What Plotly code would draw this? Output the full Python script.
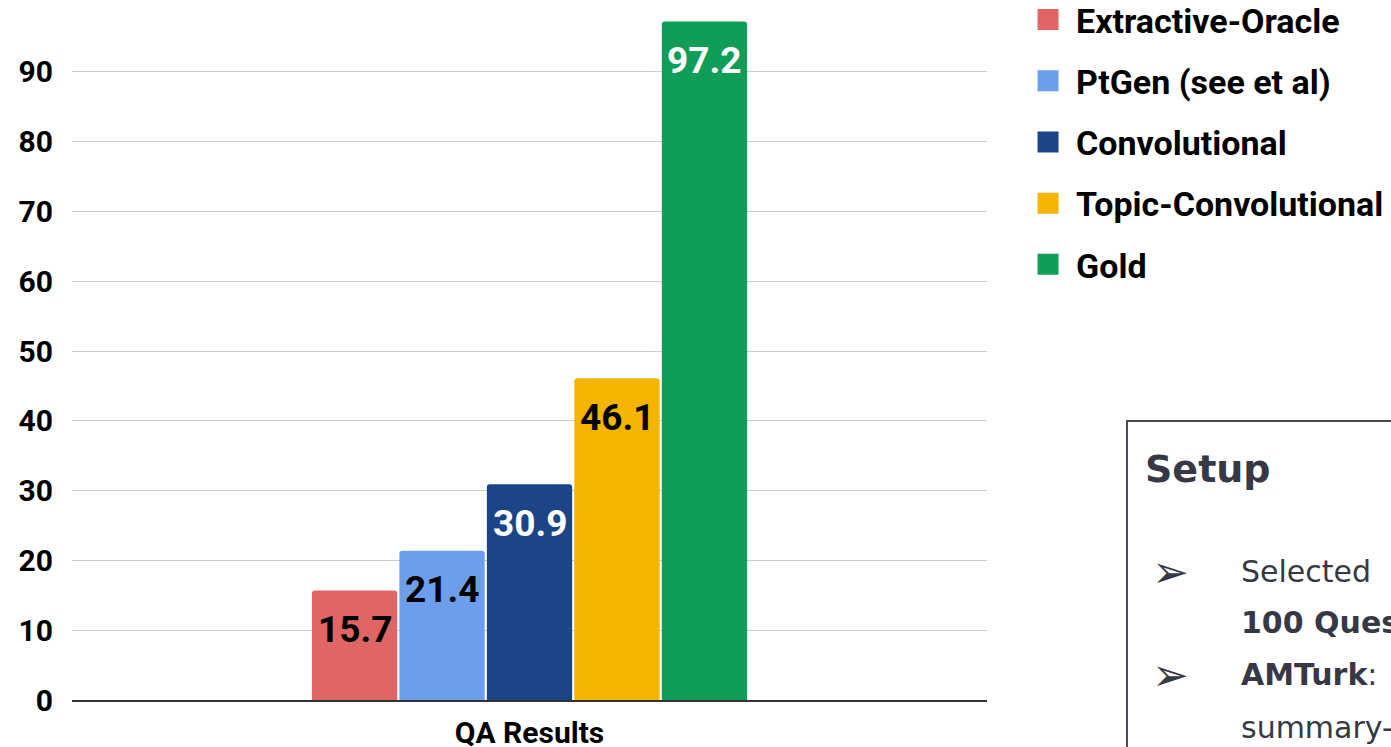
import plotly.graph_objects as go

# ---- data ----
category = ["QA Results"]
series_names = ["Extractive-Oracle", "PtGen (see et al)", "Convolutional",
                "Topic-Convolutional", "Gold"]
series_values = [15.7, 21.4, 30.9, 46.1, 97.2]
y_ticks = [0, 10, 20, 30, 40, 50, 60, 70, 80, 90]

# ---- styles ----
bar_colors = ["#e06666", "#6d9eeb", "#1c4587", "#f4b400", "#0f9d58"]
label_colors = ["#000000", "#000000", "#ffffff", "#000000", "#ffffff"]
BARGAP = 0.522
GROUPGAP = 0.025
TEXT_DARK = "#363945"

fig = go.Figure()
for i, (name, val) in enumerate(zip(series_names, series_values)):
    fig.add_trace(go.Bar(
        x=category, y=[val], name=name,
        marker=dict(color=bar_colors[i], line=dict(width=0)),
        legendgroup=name, showlegend=False,
        hoverinfo="skip",
    ))
    # legend entry with a larger square swatch
    fig.add_trace(go.Scatter(
        x=[None], y=[None], mode="markers", name=name,
        legendgroup=name, showlegend=True,
        marker=dict(symbol="square", size=16, color=bar_colors[i],
                    line=dict(color=bar_colors[i], width=5)),
        hoverinfo="skip",
    ))

# value labels inside the top of each bar
n = len(series_values)
slot = (1 - BARGAP) / n
for i, val in enumerate(series_values):
    xc = -(1 - BARGAP) / 2 + (i + 0.5) * slot
    fig.add_annotation(
        x=xc, y=val, xref="x", yref="y",
        text=f"<b>{val}</b>", showarrow=False,
        yanchor="middle", yshift=-39,
        font=dict(family="Roboto", size=37, color=label_colors[i]),
    )

fig.update_layout(
    width=1391, height=747,
    margin=dict(l=72, r=404, t=2, b=47, autoexpand=False),
    paper_bgcolor="white", plot_bgcolor="white",
    barmode="group", bargap=BARGAP, bargroupgap=GROUPGAP,
    barcornerradius=3,
    font=dict(family="Roboto", color="#000000"),
    showlegend=True,
    legend=dict(
        x=1.0361, y=1.0158, xanchor="left", yanchor="top",
        font=dict(family="Roboto", size=34, color="#000000", weight="bold"),
        traceorder="grouped", tracegroupgap=14,
        itemwidth=46, bgcolor="rgba(0,0,0,0)",
    ),
    xaxis=dict(
        type="category", range=[-0.5, 0.5], automargin=False,
        showline=True, linecolor="#333333", linewidth=1.5,
        showgrid=False, ticks="",
        tickfont=dict(family="Roboto", size=30, color="#000000", weight="bold"),
        ticklabelstandoff=5,
    ),
    yaxis=dict(
        range=[0, 100], tickvals=y_ticks, automargin=False,
        showgrid=True, gridcolor="#cccccc", gridwidth=1,
        zeroline=False, showline=False, ticks="",
        tickfont=dict(family="Roboto", size=30, color="#000000", weight="bold"),
        ticklabelstandoff=18,
    ),
)

# ---- "Setup" side box (partly outside the visible area, as in the reference) ----
def px_x(px):
    return (px - 72) / 915

def px_y(py):
    return (700 - py) / 698

fig.add_shape(
    type="rect", xref="paper", yref="paper",
    x0=px_x(1127), x1=1.7, y0=-0.2, y1=px_y(421),
    line=dict(color="#4a4c57", width=2), fillcolor="rgba(0,0,0,0)",
)
fig.add_annotation(
    xref="paper", yref="paper", x=px_x(1143), y=px_y(469),
    xanchor="left", yanchor="middle", showarrow=False,
    text="<b>Setup</b>",
    font=dict(family="DejaVu Sans", size=38, color=TEXT_DARK),
)
body_lines = [
    ("➢", "Selected", 571),
    ("", "<b>100 Questions</b>", 622),
    ("➢", "<b>AMTurk</b>:", 674),
    ("", "summary-", 727),
]
for bullet, txt, py in body_lines:
    if bullet:
        fig.add_annotation(
            xref="paper", yref="paper", x=px_x(1150), y=px_y(py),
            xanchor="left", yanchor="middle", showarrow=False,
            text=bullet, font=dict(family="DejaVu Sans", size=44, color=TEXT_DARK),
        )
    fig.add_annotation(
        xref="paper", yref="paper", x=px_x(1239), y=px_y(py),
        xanchor="left", yanchor="middle", showarrow=False,
        text=txt, font=dict(family="DejaVu Sans", size=30, color=TEXT_DARK),
    )

fig.write_html("out.html",
               config={"displayModeBar": False},
               post_script="document.body.style.margin='0px';document.body.style.padding='0px';")
